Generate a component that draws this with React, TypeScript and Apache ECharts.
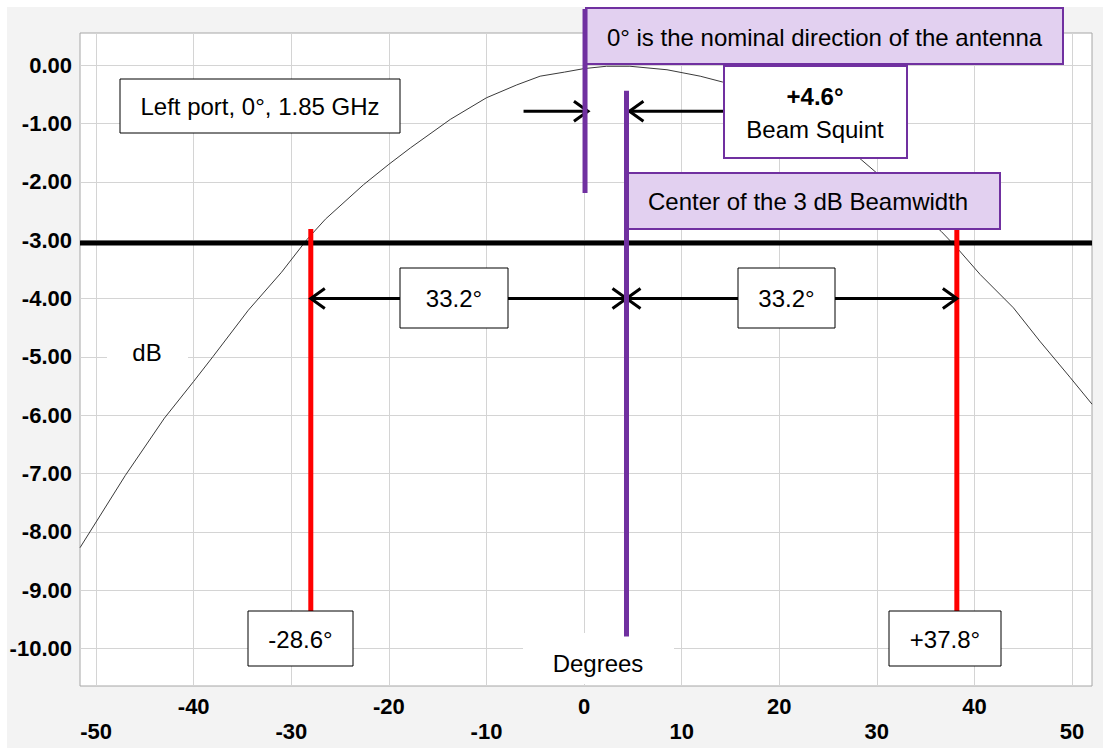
import React, { useEffect, useRef } from 'react';
import * as echarts from 'echarts';

// ---- data ----
const xTicks = [-50, -40, -30, -20, -10, 0, 10, 20, 30, 40, 50];
const yTicks = [0, -1, -2, -3, -4, -5, -6, -7, -8, -9, -10];

const curveDeg = [-51.65, -47, -43, -40, -38, -34.4, -31, -28.4, -26.5, -22.6, -20, -17.8, -13.7, -10, -6.9, -4.5, -2, 0, 2.3, 4.7, 8.5, 11.9, 14.2, 17, 20, 23, 26, 28.4, 30, 33, 36.6, 38.2, 40.6, 44, 46.7, 49.8, 52.05];
const curveDb = [-8.27, -7.03, -6.05, -5.42, -4.99, -4.2, -3.55, -2.99, -2.64, -2.05, -1.7, -1.42, -0.93, -0.56, -0.34, -0.19, -0.12, -0.06, -0.02, -0.02, -0.08, -0.19, -0.29, -0.45, -0.68, -0.95, -1.27, -1.62, -1.85, -2.3, -2.85, -3.13, -3.59, -4.16, -4.73, -5.35, -5.81];

const thresholdDb = -3.05;
const edgeDeg = [-28.0, 38.2];
const edgeSpan = [-2.81, -9.36];
const nominalDeg = 0.1;
const nominalSpan = [0.96, -2.19];
const centerDeg = 4.35;
const centerSpan = [-0.44, -9.79];

const squintArrows = [
  { from: -6.2, to: 0.4, y: -0.79, both: false },
  { from: 14.4, to: 4.65, y: -0.79, both: false },
];
const widthArrows = [
  { from: -28.0, to: 4.35, y: -4.0, both: true },
  { from: 4.35, to: 38.2, y: -4.0, both: true },
];

const X_MIN = -51.65;
const X_MAX = 52.05;
const Y_MIN = -10.64;
const Y_MAX = 0.55;

const FONT = "'Liberation Sans', Arial, Helvetica, sans-serif";
const PURPLE = '#7030a0';
const LAVENDER = '#e2d0f0';

function box(x: number, y: number, w: number, h: number, fill: string, stroke: string, lw: number, z = 10) {
  return {
    type: 'rect',
    z,
    silent: true,
    shape: { x, y, width: w, height: h },
    style: { fill, stroke, lineWidth: lw },
  };
}

function label(x: number, y: number, text: string, align = 'center', z = 11, extra: any = {}) {
  return {
    type: 'text',
    z,
    silent: true,
    x,
    y,
    style: {
      text,
      fill: '#000',
      font: `24px ${FONT}`,
      align,
      verticalAlign: 'middle',
      ...extra,
    },
  };
}

export default function App() {
  const ref = useRef<HTMLDivElement>(null);

  useEffect(() => {
    document.body.style.margin = '0';
    document.body.style.overflow = 'hidden';
    if (!ref.current) return;
    const chart = echarts.init(ref.current, undefined, { renderer: 'svg' });

    const vLine = (x: number, span: number[], color: string, z: number, clip = true) => ({
      type: 'line',
      data: [[x, span[0]], [x, span[1]]],
      symbol: 'none',
      showSymbol: false,
      silent: true,
      clip,
      z,
      lineStyle: { color, width: 5, cap: 'butt' },
    });

    const option: any = {
      animation: false,
      backgroundColor: '#f3f3f3',
      grid: {
        left: 80,
        top: 33,
        width: 1012,
        height: 653,
        show: true,
        backgroundColor: '#ffffff',
        borderColor: '#a6a6a6',
        borderWidth: 1,
        containLabel: false,
        outerBoundsMode: 'none',
      },
      xAxis: {
        type: 'value',
        min: X_MIN,
        max: X_MAX,
        axisLine: { show: false },
        axisTick: { show: false, customValues: xTicks },
        splitLine: { show: true, lineStyle: { color: '#d4d4d4', width: 1 } },
        axisLabel: {
          customValues: xTicks,
          formatter: (v: number) => {
            const k = Math.round(v / 10);
            return Math.abs(k) % 2 === 1 ? '\n' + v : String(v);
          },
          fontSize: 22,
          fontWeight: 'bold',
          fontFamily: FONT,
          color: '#000',
          lineHeight: 25,
          margin: 8,
        },
      },
      yAxis: {
        type: 'value',
        min: Y_MIN,
        max: Y_MAX,
        axisLine: { show: false },
        axisTick: { show: false, customValues: yTicks },
        splitLine: { show: true, lineStyle: { color: '#d4d4d4', width: 1 } },
        axisLabel: {
          customValues: yTicks,
          formatter: (v: number) => v.toFixed(2),
          fontSize: 22,
          fontWeight: 'bold',
          fontFamily: FONT,
          color: '#000',
          margin: 8,
        },
      },
      series: [
        {
          type: 'line',
          name: 'pattern',
          data: curveDeg.map((d, i) => [d, curveDb[i]]),
          symbol: 'none',
          showSymbol: false,
          silent: true,
          z: 3,
          lineStyle: { color: '#3a3a3a', width: 1 },
        },
        {
          type: 'line',
          data: [[X_MIN, thresholdDb], [X_MAX, thresholdDb]],
          symbol: 'none',
          showSymbol: false,
          silent: true,
          z: 7,
          lineStyle: { color: '#000', width: 5 },
        },
        ...edgeDeg.map((x) => vLine(x, edgeSpan, '#ff0000', 8)),
        vLine(nominalDeg, nominalSpan, PURPLE, 15, false),
        vLine(centerDeg, centerSpan, PURPLE, 15, false),
      ],
    };
    chart.setOption(option);

    const px = (x: number, y: number) => chart.convertToPixel({ gridIndex: 0 }, [x, y]) as number[];
    const arrowEls: any[] = [];
    const head = (tip: number[], dir: number) => ({
      type: 'polyline',
      z: 9,
      silent: true,
      shape: { points: [[tip[0] - dir * 14, tip[1] - 10], [tip[0], tip[1]], [tip[0] - dir * 14, tip[1] + 10]] },
      style: { stroke: '#000', lineWidth: 3, fill: null },
    });
    [...squintArrows, ...widthArrows].forEach((a) => {
      const p0 = px(a.from, a.y);
      const p1 = px(a.to, a.y);
      const dir = p1[0] > p0[0] ? 1 : -1;
      arrowEls.push({
        type: 'line',
        z: 9,
        silent: true,
        shape: { x1: p0[0], y1: p0[1], x2: p1[0], y2: p1[1] },
        style: { stroke: '#000', lineWidth: 3 },
      });
      arrowEls.push(head(p1, dir));
      if (a.both) arrowEls.push(head(p0, -dir));
    });

    const graphics: any[] = [
      // outer white margins
      box(0, 0, 1103, 7, '#ffffff', 'none', 0, 1),
      box(0, 0, 7, 749, '#ffffff', 'none', 0, 1),
      box(0, 748, 1103, 1, '#ffffff', 'none', 0, 1),
      // white masks
      box(107, 336, 81, 36, '#ffffff', 'none', 0, 9),
      label(147, 352, 'dB'),
      box(523, 633, 151, 51, '#ffffff', 'none', 0, 9),
      label(598, 663, 'Degrees'),
      // annotation boxes
      box(120, 79, 280, 54, '#ffffff', '#000', 1),
      label(260, 106, 'Left port, 0°, 1.85 GHz'),
      box(586, 8, 477, 56, LAVENDER, PURPLE, 2),
      label(824.5, 37, '0° is the nominal direction of the antenna'),
      box(724, 66, 183, 92, '#ffffff', PURPLE, 2),
      {
        type: 'text',
        z: 11,
        silent: true,
        x: 815,
        y: 113,
        style: {
          text: '{b|+4.6°}\n{r|Beam Squint}',
          align: 'center',
          verticalAlign: 'middle',
          rich: {
            b: { font: `bold 24px ${FONT}`, fill: '#000', lineHeight: 33, align: 'center' },
            r: { font: `24px ${FONT}`, fill: '#000', lineHeight: 33, align: 'center' },
          },
        },
      },
      box(628, 173, 372, 56, LAVENDER, PURPLE, 2),
      label(648, 201, 'Center of the 3 dB Beamwidth', 'left'),
      box(400, 268, 108, 60, '#ffffff', '#000', 1),
      label(454, 298, '33.2°'),
      box(738, 268, 97, 60, '#ffffff', '#000', 1),
      label(786.5, 298, '33.2°'),
      box(248, 611, 105, 55, '#ffffff', '#000', 1),
      label(300.5, 639, '-28.6°'),
      box(889, 611, 112, 55, '#ffffff', '#000', 1),
      label(945, 639, '+37.8°'),
      ...arrowEls,
    ];
    chart.setOption({ graphic: graphics });

    return () => chart.dispose();
  }, []);

  return <div ref={ref} style={{ width: 1103, height: 749 }} />;
}
